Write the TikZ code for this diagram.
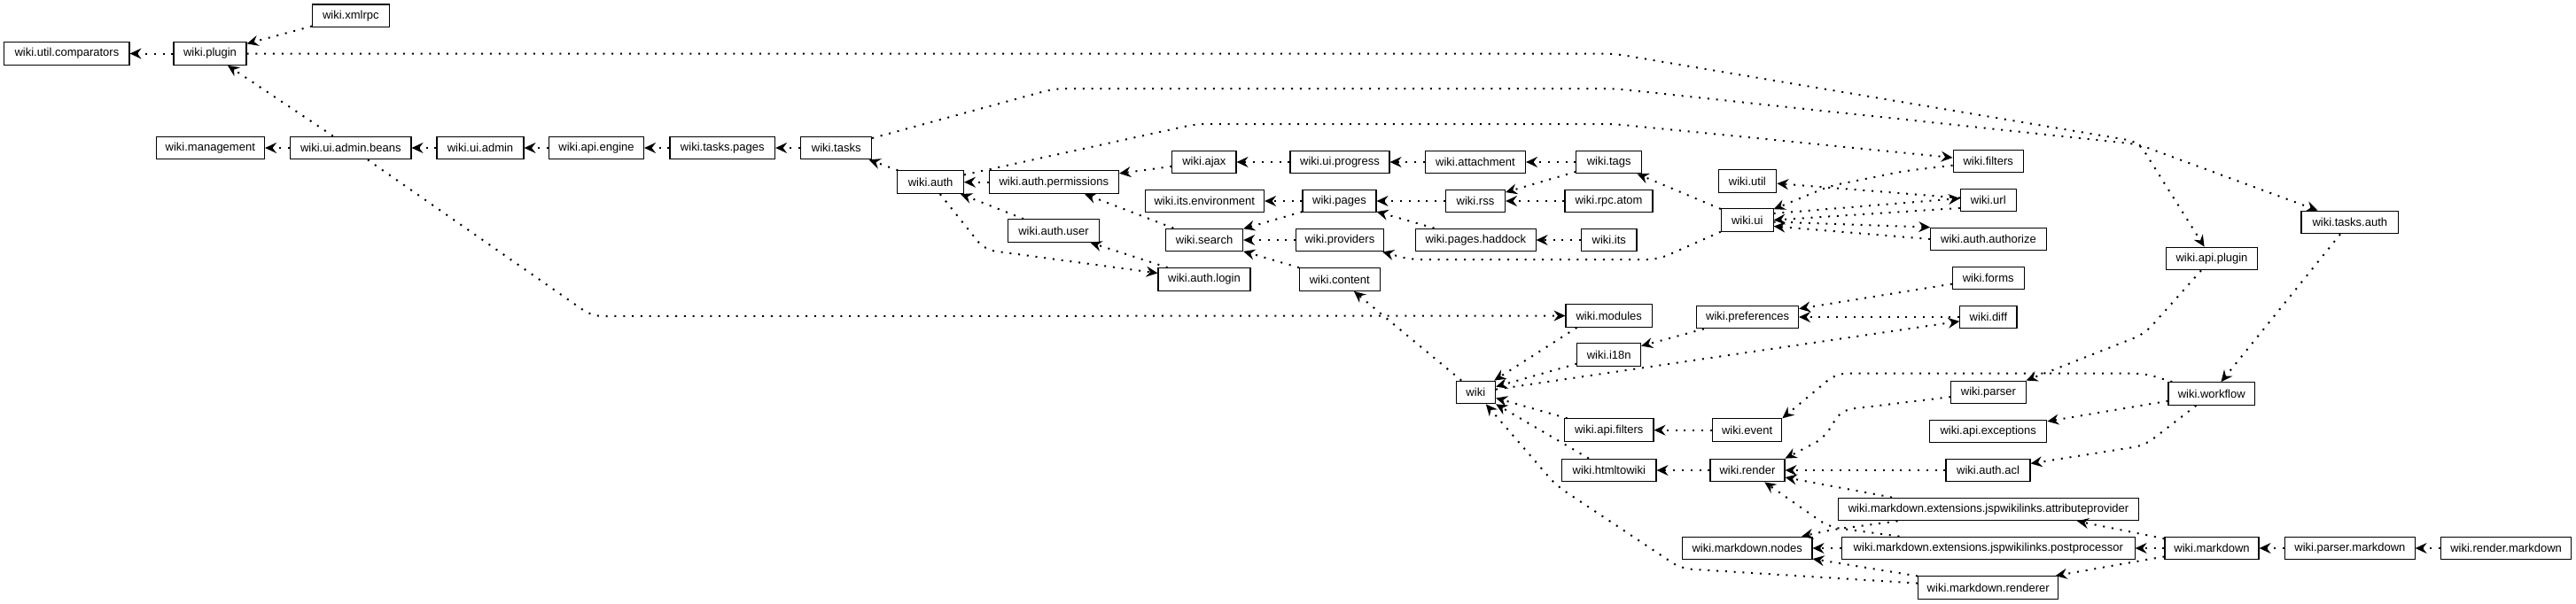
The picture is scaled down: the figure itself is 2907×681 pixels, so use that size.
\documentclass[tikz,border=0pt]{standalone}
\usepackage{fontspec}
\setmainfont{Liberation Sans}
\usetikzlibrary{arrows.meta}
\begin{document}
\begin{tikzpicture}[x=1pt,y=-1pt,
  box/.style={draw=black, line width=1.1pt, fill=white, minimum height=25.7pt, inner sep=0pt, font=\fontsize{13pt}{15pt}\selectfont},
  dep/.style={draw=black, line width=2pt, dash pattern=on 2pt off 7.8pt, rounded corners=12pt,
    -{Stealth[length=13pt,width=12pt,inset=4.5pt,line width=1.3pt]}}]
\fill[white] (0,0) rectangle (2907,681);
\useasboundingbox (0,0) rectangle (2907,681);
% nodes
\node[box, minimum width=86.5pt] (xmlrpc) at (395.8,17.8) {wiki.xmlrpc};
\node[box, minimum width=141.2pt] (comparators) at (75.4,60.5) {wiki.util.comparators};
\node[box, minimum width=82pt] (plugin) at (237,60.5) {wiki.plugin};
\node[box, minimum width=122.5pt] (management) at (237.3,167) {wiki.management};
\node[box, minimum width=136.4pt] (beans) at (395.8,167) {wiki.ui.admin.beans};
\node[box, minimum width=98pt] (uiadmin) at (542,167) {wiki.ui.admin};
\node[box, minimum width=107pt] (apiengine) at (673,167) {wiki.api.engine};
\node[box, minimum width=118.6pt] (taskspages) at (815.3,167) {wiki.tasks.pages};
\node[box, minimum width=79.8pt] (tasks) at (943.7,167) {wiki.tasks};
\node[box, minimum width=74.6pt] (auth) at (1050.1,205.7) {wiki.auth};
\node[box, minimum width=146.5pt] (authperm) at (1189.3,205.7) {wiki.auth.permissions};
\node[box, minimum width=72.2pt] (ajax) at (1358.9,183) {wiki.ajax};
\node[box, minimum width=134.5pt] (itsenv) at (1359.3,227) {wiki.its.environment};
\node[box, minimum width=103pt] (authuser) at (1189,260.5) {wiki.auth.user};
\node[box, minimum width=87pt] (search) at (1359.1,271) {wiki.search};
\node[box, minimum width=104pt] (authlogin) at (1359,315.5) {wiki.auth.login};
\node[box, minimum width=112pt] (uiprogress) at (1512,183) {wiki.ui.progress};
\node[box, minimum width=113pt] (attachment) at (1665,183) {wiki.attachment};
\node[box, minimum width=73.7pt] (tags) at (1815.7,183) {wiki.tags};
\node[box, minimum width=83pt] (pages) at (1511.5,227) {wiki.pages};
\node[box, minimum width=67pt] (rss) at (1665,227) {wiki.rss};
\node[box, minimum width=99pt] (rpcatom) at (1815.5,227) {wiki.rpc.atom};
\node[box, minimum width=98.5pt] (providers) at (1511.9,271) {wiki.providers};
\node[box, minimum width=135.5pt] (haddock) at (1665.3,271) {wiki.pages.haddock};
\node[box, minimum width=62.4pt] (its) at (1815.8,271) {wiki.its};
\node[box, minimum width=90.5pt] (content) at (1511.8,315.5) {wiki.content};
\node[box, minimum width=65.7pt] (util) at (1971.9,204.5) {wiki.util};
\node[box, minimum width=58.7pt] (ui) at (1971.7,248.5) {wiki.ui};
\node[box, minimum width=79.3pt] (filters) at (2243.7,182) {wiki.filters};
\node[box, minimum width=63pt] (url) at (2243.8,226) {wiki.url};
\node[box, minimum width=130.6pt] (authorize) at (2244,270) {wiki.auth.authorize};
\node[box, minimum width=80.7pt] (forms) at (2243.7,314) {wiki.forms};
\node[box, minimum width=102.8pt] (apiplugin) at (2496,292) {wiki.api.plugin};
\node[box, minimum width=109.6pt] (tasksauth) at (2651.8,251) {wiki.tasks.auth};
\node[box, minimum width=97.4pt] (modules) at (1815.7,356.5) {wiki.modules};
\node[box, minimum width=114.8pt] (preferences) at (1972.1,358) {wiki.preferences};
\node[box, minimum width=71.7pt] (i18n) at (1815.7,400.5) {wiki.i18n};
\node[box, minimum width=44.5pt] (wiki) at (1665.3,443) {wiki};
\node[box, minimum width=100.6pt] (apifilters) at (1815.7,485.7) {wiki.api.filters};
\node[box, minimum width=78.4pt] (event) at (1971.6,485.7) {wiki.event};
\node[box, minimum width=106.4pt] (htmltowiki) at (1815.8,531) {wiki.htmltowiki};
\node[box, minimum width=84pt] (render) at (1972,531) {wiki.render};
\node[box, minimum width=146.6pt] (mdnodes) at (1971.7,619) {wiki.markdown.nodes};
\node[box, minimum width=64.2pt] (diff) at (2243.9,358) {wiki.diff};
\node[box, minimum width=84.3pt] (parser) at (2243.9,443) {wiki.parser};
\node[box, minimum width=97.4pt] (workflow) at (2495.7,444.5) {wiki.workflow};
\node[box, minimum width=132.3pt] (apiexceptions) at (2243.7,487) {wiki.api.exceptions};
\node[box, minimum width=95pt] (authacl) at (2243.5,531) {wiki.auth.acl};
\node[box, minimum width=339.3pt] (attrprov) at (2244,575) {wiki.markdown.extensions.jspwikilinks.attributeprovider};
\node[box, minimum width=330.5pt] (postproc) at (2243.8,619) {wiki.markdown.extensions.jspwikilinks.postprocessor};
\node[box, minimum width=106pt] (markdown) at (2496,619) {wiki.markdown};
\node[box, minimum width=146.3pt] (parsermd) at (2651.9,619) {wiki.parser.markdown};
\node[box, minimum width=147.2pt] (rendermd) at (2828.1,619) {wiki.render.markdown};
\node[box, minimum width=158.3pt] (mdrenderer) at (2243.7,663.5) {wiki.markdown.renderer};
% edges
\draw[dep] (plugin) -- (comparators);
\draw[dep] (xmlrpc) -- (plugin);
\draw[dep] (beans) -- (plugin);
\draw[dep] (beans) -- (management);
\draw[dep] (uiadmin) -- (beans);
\draw[dep] (apiengine) -- (uiadmin);
\draw[dep] (taskspages) -- (apiengine);
\draw[dep] (tasks) -- (taskspages);
\draw[dep] (auth) -- (tasks);
\draw[dep] (authperm) -- (auth);
\draw[dep] (authuser) -- (auth);
\draw[dep] (auth) -- (1111,282) -- (authlogin);
\draw[dep] (authlogin) -- (authuser);
\draw[dep] (auth) -- (1350,140) -- (1821,140) -- (filters);
\draw[dep] (tasks) -- (1190,100) -- (1821,100) -- (2413,163) -- (tasksauth);
\draw[dep] (plugin) -- (1821,60.5) -- (2413,160) -- (apiplugin);
\draw[dep] (ajax) -- (authperm);
\draw[dep] (uiprogress) -- (ajax);
\draw[dep] (attachment) -- (uiprogress);
\draw[dep] (tags) -- (attachment);
\draw[dep] (tags) -- (rss);
\draw[dep] (rpcatom) -- (rss);
\draw[dep] (rss) -- (pages);
\draw[dep] (pages) -- (itsenv);
\draw[dep] (pages) -- (search);
\draw[dep] (providers) -- (search);
\draw[dep] (content) -- (search);
\draw[dep] (search) -- (authperm);
\draw[dep] (haddock) -- (pages);
\draw[dep] (its) -- (haddock);
\draw[dep] (ui) -- (1871,293) -- (1591,293) -- (providers);
\draw[dep] (ui) -- (tags);
\draw[dep] (wiki) -- (content);
\draw[dep] (beans) -- (668,357) -- (modules);
\draw[dep] ([xshift=13pt]modules.south west) -- (wiki);
\draw[dep] (i18n) -- (wiki);
\draw[dep] (preferences) -- (i18n);
\draw[dep] (wiki) -- (diff);
\draw[dep] (forms) -- (preferences);
\draw[dep] (diff) -- (preferences);
\draw[dep] (apifilters) -- (wiki);
\draw[dep] (htmltowiki) -- (wiki);
\draw[dep] (mdrenderer) -- (1897,642) -- (1756,548) -- (wiki);
\draw[dep] (event) -- (apifilters);
\draw[dep] (render) -- (htmltowiki);
\draw[dep] (parser) -- (2078,463) -- (2058,495) -- (render.north east);
\draw[dep] (workflow) -- (2420,421.7) -- (2072,421.7) -- (event.north east);
\draw[dep] (apiplugin) -- (2420,377) -- (parser.north east);
\draw[dep] (tasksauth) -- (workflow);
\draw[dep] (workflow) -- (apiexceptions);
\draw[dep] (workflow) -- (2420,503) -- (authacl);
\draw[dep] (authacl) -- (render);
\draw[dep] ([xshift=-109pt]attrprov.north) -- (render);
\draw[dep] (postproc) -- (2064,595) -- (render);
\draw[dep] (attrprov) -- (2068,598) -- (mdnodes);
\draw[dep] (postproc) -- (mdnodes);
\draw[dep] (mdrenderer) -- (mdnodes);
\draw[dep] (markdown) -- ([xshift=100pt]attrprov.south);
\draw[dep] (markdown) -- (postproc);
\draw[dep] (markdown) -- (mdrenderer);
\draw[dep] (parsermd) -- (markdown);
\draw[dep] (rendermd) -- (parsermd);
\draw[dep] (filters) -- (2150,193) -- (2065,210) -- (ui);
\draw[dep] (url) -- (util);
\draw[dep] ([yshift=7.5pt]ui.east) -- ([yshift=2pt]url.west);
\draw[dep] ([yshift=4.5pt]url.south west) -- (ui.east);
\draw[dep] ([yshift=-2pt]ui.east) -- (authorize.north west);
\draw[dep] (authorize.west) -- ([yshift=-7pt]ui.east);
\end{tikzpicture}
\end{document}
